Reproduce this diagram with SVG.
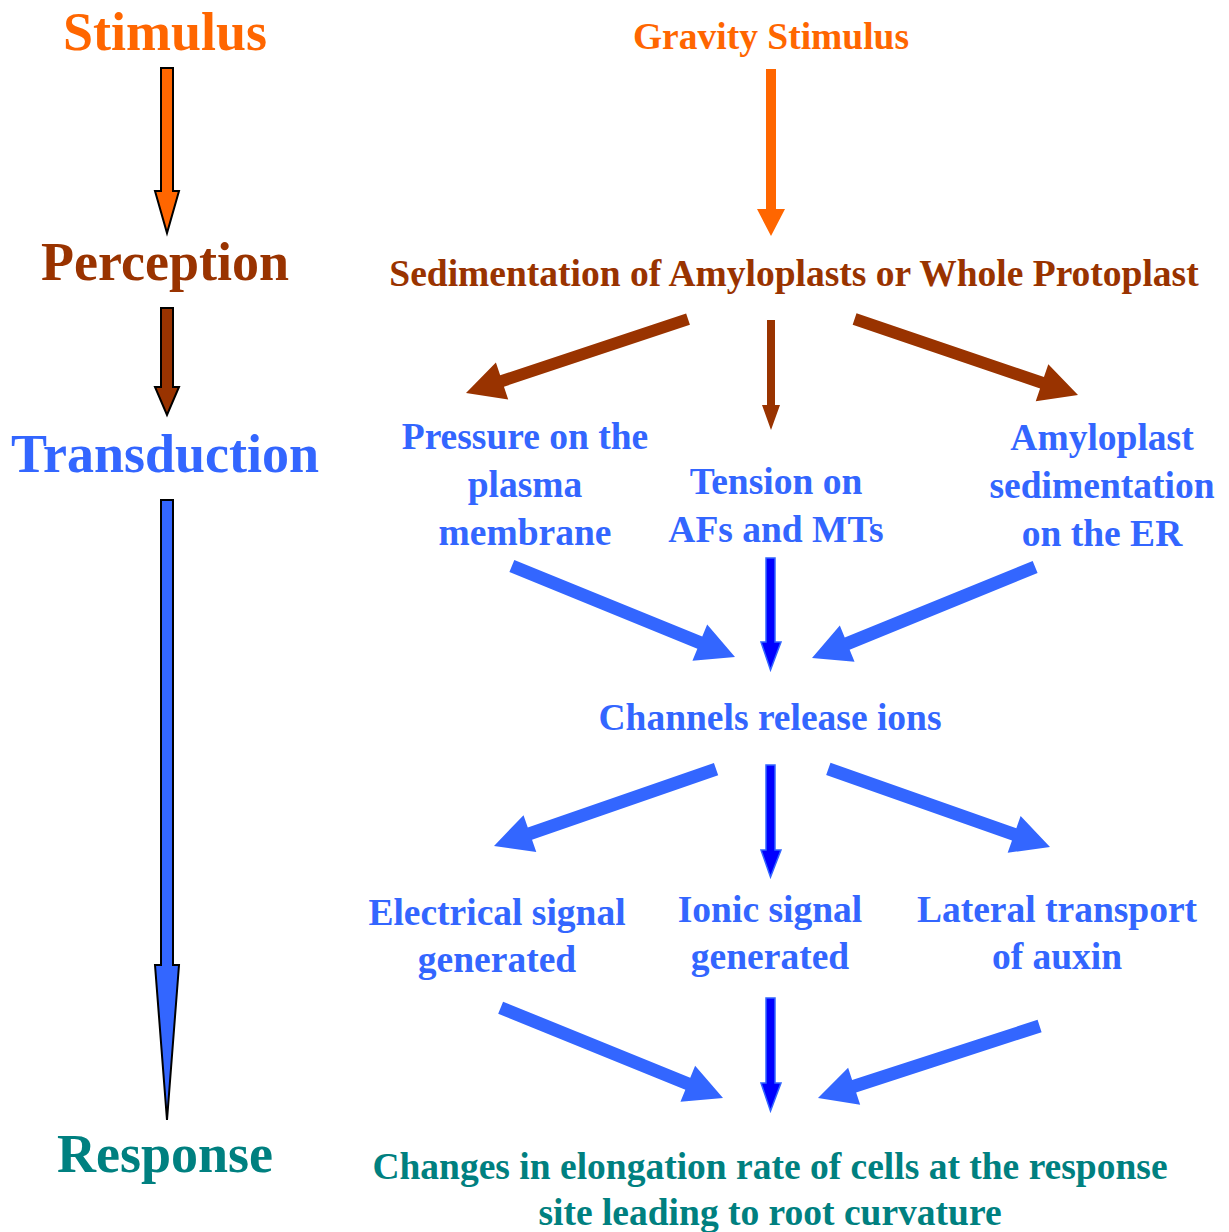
<svg xmlns="http://www.w3.org/2000/svg" width="1229" height="1232" viewBox="0 0 1229 1232">
<style>
text{font-family:"Liberation Serif","Times New Roman",serif;font-weight:bold;text-anchor:middle}
.big{font-size:54px}
.mid{font-size:37.5px}
.or{fill:#FF6600}
.br{fill:#993300}
.bl{fill:#3366FF}
.te{fill:#008080}
.stage{stroke:#000;stroke-width:2;stroke-linejoin:miter}
.vb{fill:#0000FF;stroke:#3366FF;stroke-width:1.5}
</style>
<rect width="1229" height="1232" fill="#fff"/>
<g id="stages">
<g id="stage-stimulus"><text class="big or" x="165" y="50">Stimulus</text></g>
<g id="stage-perception"><text class="big br" x="165" y="280">Perception</text></g>
<g id="stage-transduction"><text class="big bl" x="165" y="472">Transduction</text></g>
<g id="stage-response"><text class="big te" x="165" y="1172">Response</text></g>
</g>
<g id="gravity"><text class="mid or" x="771" y="49">Gravity Stimulus</text></g>
<g id="sedimentation"><text class="mid br" x="794" y="286">Sedimentation of Amyloplasts or Whole Protoplast</text></g>
<g id="pressure"><text class="mid bl" x="525" y="449">Pressure on the</text><text class="mid bl" x="525" y="497">plasma</text><text class="mid bl" x="525" y="545">membrane</text></g>
<g id="tension"><text class="mid bl" x="776" y="494">Tension on</text><text class="mid bl" x="776" y="542">AFs and MTs</text></g>
<g id="amyloplast"><text class="mid bl" x="1102" y="450">Amyloplast</text><text class="mid bl" x="1102" y="498">sedimentation</text><text class="mid bl" x="1102" y="546">on the ER</text></g>
<g id="channels"><text class="mid bl" x="770" y="730">Channels release ions</text></g>
<g id="electrical"><text class="mid bl" x="497" y="925">Electrical signal</text><text class="mid bl" x="497" y="972">generated</text></g>
<g id="ionic"><text class="mid bl" x="770" y="922">Ionic signal</text><text class="mid bl" x="770" y="969">generated</text></g>
<g id="lateral"><text class="mid bl" x="1057" y="922">Lateral transport</text><text class="mid bl" x="1057" y="969">of auxin</text></g>
<g id="changes"><text class="mid te" x="770" y="1179">Changes in elongation rate of cells at the response</text><text class="mid te" x="770" y="1225">site leading to root curvature</text></g>
<g id="connectors">
<polygon class="stage or" points="161,68 173,68 173,191 179,191 167,233 155,191 161,191"/>
<polygon class="stage br" points="161,308 173,308 173,387 179,387 167,415 155,387 161,387"/>
<polygon class="stage bl" points="161,500 173,500 173,965 179,965 167,1120 155,965 161,965"/>
<polygon class="or" points="766,69 776,69 776,209 785,209 771,236 757,209 766,209"/>
<polygon class="br" points="-234,-6 -38,-6 -38,-19.5 0,0 -38,19.5 -38,6 -234,6" transform="translate(466,393) rotate(161.6)"/>
<polygon class="br" points="-236,-6 -38,-6 -38,-19.5 0,0 -38,19.5 -38,6 -236,6" transform="translate(1078,395) rotate(18.8)"/>
<polygon class="br" points="767,320 775,320 775,405 780,405 771,430 762,405 767,405"/>
<polygon class="bl" points="-241,-6.5 -38,-6.5 -38,-19.5 0,0 -38,19.5 -38,6.5 -241,6.5" transform="translate(735,657) rotate(22.2)"/>
<polygon class="bl" points="-241,-6.5 -38,-6.5 -38,-19.5 0,0 -38,19.5 -38,6.5 -241,6.5" transform="translate(812,658) rotate(157.8)"/>
<polygon class="vb" points="766,558 775,558 775,642 781,642 770.5,670 761,642 766,642"/>
<polygon class="bl" points="-235,-6.5 -38,-6.5 -38,-19.5 0,0 -38,19.5 -38,6.5 -235,6.5" transform="translate(494,846) rotate(160.9)"/>
<polygon class="vb" points="766,765 775,765 775,850 781,850 770.5,877 761,850 766,850"/>
<polygon class="bl" points="-235,-6.5 -38,-6.5 -38,-19.5 0,0 -38,19.5 -38,6.5 -235,6.5" transform="translate(1050,847) rotate(19.4)"/>
<polygon class="bl" points="-240,-6.5 -38,-6.5 -38,-19.5 0,0 -38,19.5 -38,6.5 -240,6.5" transform="translate(723,1098) rotate(22.1)"/>
<polygon class="vb" points="766,998 775,998 775,1083 781,1083 770.5,1111 761,1083 766,1083"/>
<polygon class="bl" points="-233,-6.5 -38,-6.5 -38,-19.5 0,0 -38,19.5 -38,6.5 -233,6.5" transform="translate(818,1098) rotate(162)"/>
</g>
</svg>
